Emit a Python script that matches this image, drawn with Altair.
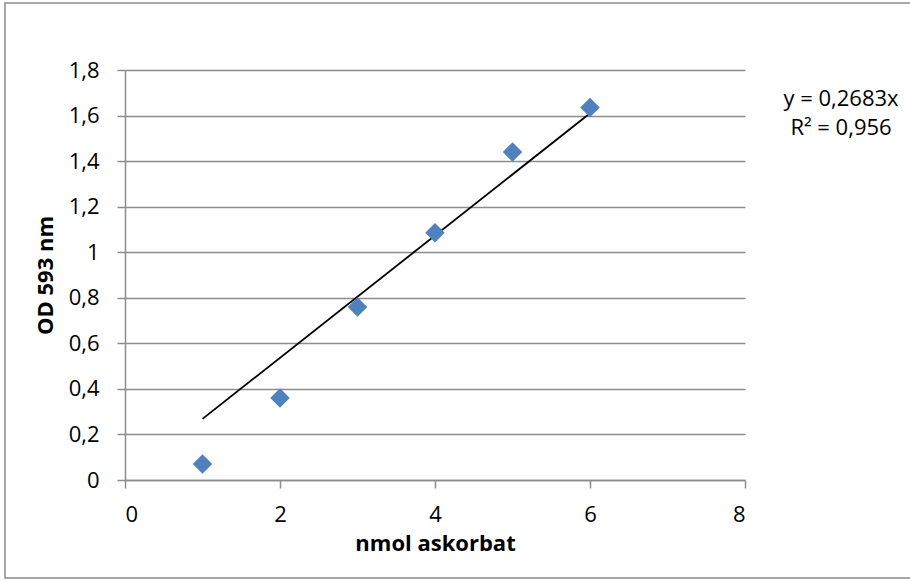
import altair as alt
import pandas as pd

x_vals = [1, 2, 3, 4, 5, 6]
y_vals = [0.07, 0.36, 0.76, 1.085, 1.44, 1.635]
slope = 0.2683
trend_x = [1, 6]
eq_lines = ["y = 0,2683x", "R² = 0,956"]
y_ticks = [0, 0.2, 0.4, 0.6, 0.8, 1.0, 1.2, 1.4, 1.6, 1.8]
x_ticks = [0, 2, 4, 6, 8]

pts = pd.DataFrame({"x": x_vals, "y": y_vals})
trend = pd.DataFrame({"x": trend_x, "y": [slope * v for v in trend_x]})

FONT = "Open Sans"
GRAY = "#8c8c8c"
FS = 22
label_expr = "replace(format(datum.value, '~g'), '.', ',')"

xscale = alt.Scale(domain=[0, 8], nice=False, zero=True)
yscale = alt.Scale(domain=[0, 1.8], nice=False, zero=True)

xaxis = alt.Axis(values=x_ticks, title="nmol askorbat", grid=False,
                 labelExpr=label_expr, labelFontSize=FS, labelColor="black",
                 labelFont=FONT, labelPadding=16,
                 titleFont=FONT, titleFontSize=FS, titleFontWeight="bold",
                 titleColor="black", titlePadding=8,
                 domainColor=GRAY, domainWidth=1.5, tickColor=GRAY,
                 tickWidth=1.5, tickSize=8)
yaxis = alt.Axis(values=y_ticks, title="OD 593 nm", grid=True,
                 gridColor=GRAY, gridWidth=1.5,
                 labelExpr=label_expr, labelFontSize=FS, labelColor="black",
                 labelFont=FONT, labelPadding=18,
                 titleFont=FONT, titleFontSize=FS, titleFontWeight="bold",
                 titleColor="black", titlePadding=11,
                 domainColor=GRAY, domainWidth=1.5, tickColor=GRAY,
                 tickWidth=1.5, tickSize=8)

frame = alt.Chart(pd.DataFrame({"a": [0]})).mark_rect(
    fill=None, stroke=GRAY, strokeWidth=1.5
).encode(x=alt.value(-120), x2=alt.value(800), y=alt.value(-67),
         y2=alt.value(508))

line = alt.Chart(trend).mark_line(color="black", strokeWidth=1.8).encode(
    x=alt.X("x:Q", scale=xscale, axis=xaxis),
    y=alt.Y("y:Q", scale=yscale, axis=yaxis),
)

points = alt.Chart(pts).mark_point(
    shape="diamond", filled=True, size=380, color="#4F81BD", opacity=1
).encode(
    x=alt.X("x:Q", scale=xscale),
    y=alt.Y("y:Q", scale=yscale),
)

def eq_text(t, ypix):
    return alt.Chart(pd.DataFrame({"t": [t]})).mark_text(
        font=FONT, fontSize=FS, color="black", align="center", baseline="middle"
    ).encode(x=alt.value(716), y=alt.value(ypix), text="t:N")

text1 = eq_text(eq_lines[0], 29)
text2 = eq_text(eq_lines[1], 58)

chart = alt.layer(frame, line, points, text1, text2).properties(
    width=620, height=410,
    padding={"left": 125, "top": 70, "right": 165, "bottom": 101},
    autosize=alt.AutoSizeParams(type="none"),
    background="white",
).configure_view(stroke=None)

chart.save("out.html", embed_options={"renderer": "svg", "actions": False})
